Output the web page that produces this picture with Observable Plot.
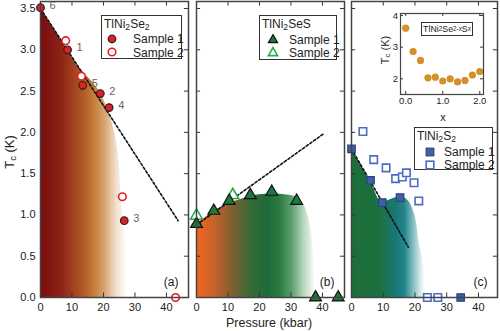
<!DOCTYPE html>
<html><head><meta charset="utf-8">
<script src="https://cdn.jsdelivr.net/npm/d3@7"></script>
<script src="https://cdn.jsdelivr.net/npm/@observablehq/plot@0.6"></script>
<style>
body{margin:0;background:#fff;}
#chart{position:relative;width:500px;height:331px;font-family:"Liberation Sans",Arial,sans-serif;color:#222;overflow:hidden;}
.abs{position:absolute;white-space:nowrap;line-height:1;}
.legend{position:absolute;border:1px solid #333;background:#fff;font-size:12px;box-sizing:border-box;}
.legend .t,.legend .r{position:absolute;white-space:nowrap;line-height:1;}
sub{font-size:0.72em;vertical-align:-0.25em;line-height:0;}
</style></head><body><div id="chart"></div>
<script>
// ---------- data ----------
const pressureTicks = [0, 10, 20, 30, 40];
const tcTicks = [0, 0.5, 1, 1.5, 2, 2.5, 3, 3.5];

// (a) TlNi2Se2
const seS1P = [0, 8.6, 13.4, 19.0, 21.8, 26.6];
const seS1T = [3.51, 3.00, 2.57, 2.47, 2.30, 0.93];
const seS1Label = ["6", "1", "5", "2", "4", "3"];
const seS2P = [8.0, 13.0, 26.0, 42.9];
const seS2T = [3.11, 2.68, 1.22, 0.0];
const seFitP = [0, 43.7];
const seFitT = [3.5, 0.93];
const seDomeP = [0, 11, 22, 23.5, 24.9, 25.6, 26.5, 27.3, 27.5];
const seDomeT = [3.5, 2.85, 2.21, 2.0, 1.66, 1.26, 0.85, 0.45, 0];

// (b) TlNi2SeS
const sesS1P = [0, 5.5, 10.4, 17.1, 23.9, 31.8, 37.8, 45.0];
const sesS1T = [0.89, 1.05, 1.17, 1.24, 1.28, 1.17, 0, 0];
const sesS2P = [0, 11.5];
const sesS2T = [0.99, 1.24];
const sesFitP = [0, 40.6];
const sesFitT = [0.88, 1.99];
const sesDomeP = [0, 5, 10, 15, 20, 25, 30, 32.5, 34, 35.3, 36.2, 37.2, 37.7, 37.8];
const sesDomeT = [0.88, 1.03, 1.13, 1.2, 1.245, 1.255, 1.235, 1.2, 1.13, 1.0, 0.85, 0.45, 0.05, 0];

// (c) TlNi2S2
const sS1P = [0, 6.0, 9.7, 15.3, 34.4];
const sS1T = [1.80, 1.42, 1.15, 1.21, 0];
const sS2P = [3.6, 7.0, 10.9, 13.9, 16.0, 17.3, 19.7, 21.2, 23.9, 27.2];
const sS2T = [2.01, 1.67, 1.57, 1.44, 1.46, 1.51, 1.39, 1.17, 0, 0];
const sFitP = [0, 17.9];
const sFitT = [1.80, 0.61];
const sDomeP = [0, 3, 6, 9.7, 12, 15.3, 17, 19.1, 20.7, 21.2, 22.8, 23.3, 23.4];
const sDomeT = [1.80, 1.60, 1.40, 1.15, 1.18, 1.22, 1.2, 1.09, 0.85, 0.69, 0.33, 0.05, 0];

// inset: TlNi2Se(2-x)S(x)
const insetX = [0, 0.2, 0.4, 0.6, 0.8, 1.0, 1.2, 1.4, 1.6, 1.8, 2.0];
const insetTc = [3.60, 2.86, 2.58, 2.03, 2.05, 1.93, 2.00, 1.90, 1.95, 2.12, 2.23];
const insetXTicks = [0, 1, 2];
const insetYTicks = [2, 3, 4];

// ---------- helpers ----------
const rows = (xs, ys, ls) => xs.map((x, i) => ({x, y: ys[i], label: ls ? ls[i] : null}));
const YMAX = 3.585;
const chart = document.getElementById("chart");
const FONT = "font-family:'Liberation Sans',Arial,sans-serif;";

function addGradient(svgEl, id, stops) {
  const ns = "http://www.w3.org/2000/svg";
  const defs = document.createElementNS(ns, "defs");
  const g = document.createElementNS(ns, "linearGradient");
  g.setAttribute("id", id);
  g.setAttribute("x1", "0"); g.setAttribute("x2", "1");
  g.setAttribute("y1", "0"); g.setAttribute("y2", "0");
  for (const [o, c] of stops) {
    const s = document.createElementNS(ns, "stop");
    s.setAttribute("offset", o); s.setAttribute("stop-color", c);
    g.appendChild(s);
  }
  defs.appendChild(g);
  svgEl.insertBefore(defs, svgEl.firstChild);
}

function place(node, left, top) {
  const svg = node.tagName.toLowerCase() === "svg" ? node : node.querySelector("svg");
  node.style.position = "absolute";
  node.style.left = left + "px";
  node.style.top = top + "px";
  node.style.background = "transparent";
  node.style.overflow = "visible";
  node.style.maxWidth = "none";
  chart.appendChild(node);
  return svg;
}

function frameTicks(xmax) {
  const ty = 0.055, tx = 1.3, st = {stroke: "#333", strokeWidth: 1};
  return [
    Plot.ruleX(pressureTicks, {x: d => d, y1: 0, y2: ty, ...st}),
    Plot.ruleX(pressureTicks, {x: d => d, y1: YMAX - ty, y2: YMAX, ...st}),
    Plot.ruleY(tcTicks, {y: d => d, x1: 0, x2: tx, ...st}),
    Plot.ruleY(tcTicks, {y: d => d, x1: xmax - tx, x2: xmax, ...st})
  ];
}

function panel(o) {
  const marks = [
    Plot.areaY(rows(o.domeP, o.domeT), {x: "x", y: "y", fill: `url(#${o.gid})`, curve: "monotone-x"}),
    ...frameTicks(o.xmax),
    Plot.line(rows(o.fitP, o.fitT), {x: "x", y: "y", stroke: "#111", strokeWidth: 1.6, strokeDasharray: "2.5,2"}),
    Plot.dot(rows(o.s2P, o.s2T), {x: "x", y: "y", symbol: o.symbol, r: o.r, fill: "#fff", stroke: o.c2, strokeWidth: 1.6}),
    Plot.dot(rows(o.s1P, o.s1T, o.labels), {x: "x", y: "y", symbol: o.symbol, r: o.r, fill: o.c1, stroke: o.k1, strokeWidth: 1.2}),
    o.labels ? Plot.text(rows(o.s1P, o.s1T, o.labels), {x: "x", y: "y", text: "label", dx: 9, dy: -2, textAnchor: "start", fill: "#666", fontSize: 11}) : null,
    Plot.text([o.tag], {text: d => d, frameAnchor: "bottom-right", dx: -10, dy: -12, fontSize: 12, fill: "#222"}),
    Plot.frame({stroke: "#444", strokeWidth: 1.5})
  ].filter(Boolean);
  const p = Plot.plot({
    width: o.width, height: 331,
    marginLeft: o.ml, marginRight: o.mr, marginTop: 1, marginBottom: 34,
    style: FONT + "font-size:11px;",
    x: {domain: [0, o.xmax], ticks: pressureTicks, tickSize: 0, tickPadding: 6, label: null},
    y: o.showY
      ? {domain: [0, YMAX], ticks: tcTicks, tickFormat: d3.format(".1f"), tickSize: 0, tickPadding: 5, label: null}
      : {domain: [0, YMAX], axis: null},
    marks
  });
  const svg = place(p, o.left, 0);
  addGradient(svg, o.gid, o.stops);
}

// (a)
panel({left: 0, width: 192, ml: 40, mr: 4, xmax: 47, showY: true, gid: "gA",
  domeP: seDomeP, domeT: seDomeT, fitP: seFitP, fitT: seFitT,
  s1P: seS1P, s1T: seS1T, s2P: seS2P, s2T: seS2T, labels: seS1Label,
  symbol: "circle", r: 3.8, c1: "#e31e24", k1: "#222", c2: "#e31e24", tag: "(a)",
  stops: [[0, "#7a0c10"], [0.25, "#8e2416"], [0.5, "#b25a26"], [0.62, "#c47c36"], [0.75, "#d9a575"], [0.88, "#f2e0cf"], [1, "#ffffff"]]});

// (b)
panel({left: 192, width: 156, ml: 4, mr: 4, xmax: 47, showY: false, gid: "gB",
  domeP: sesDomeP, domeT: sesDomeT, fitP: sesFitP, fitT: sesFitT,
  s1P: sesS1P, s1T: sesS1T, s2P: sesS2P, s2T: sesS2T, labels: null,
  symbol: "triangle", r: 4.4, c1: "#1b7a3a", k1: "#111", c2: "#2aa84a", tag: "(b)",
  stops: [[0, "#f26522"], [0.15, "#c8632a"], [0.3, "#7f6030"], [0.45, "#3a6a35"], [0.6, "#1d6a3a"], [0.7, "#2a7a40"], [0.8, "#5a9d6a"], [0.9, "#b5d5bb"], [1, "#ffffff"]]});

// (c)
panel({left: 347, width: 153, ml: 4, mr: 3, xmax: 46, showY: false, gid: "gC",
  domeP: sDomeP, domeT: sDomeT, fitP: sFitP, fitT: sFitT,
  s1P: sS1P, s1T: sS1T, s2P: sS2P, s2T: sS2T, labels: null,
  symbol: "square", r: 4.2, c1: "#3f5fa8", k1: "#2b4080", c2: "#4a6cc4", tag: "(c)",
  stops: [[0, "#1c6e38"], [0.4, "#1b7040"], [0.6, "#187878"], [0.72, "#23868a"], [0.85, "#90c4c6"], [0.95, "#e4f0f0"], [1, "#ffffff"]]});

// inset
{
  const xd = [-0.14, 2.1], yd = [1.504, 4.063];
  const st = {stroke: "#333", strokeWidth: 1};
  const iy = 0.095, ix = 0.08;
  const p = Plot.plot({
    width: 110, height: 125, marginLeft: 20, marginRight: 7, marginTop: 13, marginBottom: 31,
    style: FONT + "font-size:9.5px;",
    x: {domain: xd, ticks: insetXTicks, tickFormat: d3.format(".1f"), tickSize: 0, tickPadding: 3, label: null},
    y: {domain: yd, ticks: insetYTicks, tickFormat: d3.format("d"), tickSize: 0, tickPadding: 2.5, label: null},
    marks: [
      Plot.ruleX(insetXTicks, {x: d => d, y1: yd[0], y2: yd[0] + iy, ...st}),
      Plot.ruleX(insetXTicks, {x: d => d, y1: yd[1] - iy, y2: yd[1], ...st}),
      Plot.ruleY(insetYTicks, {y: d => d, x1: xd[0], x2: xd[0] + ix, ...st}),
      Plot.ruleY(insetYTicks, {y: d => d, x1: xd[1] - ix, x2: xd[1], ...st}),
      Plot.dot(rows(insetX, insetTc), {x: "x", y: "y", r: 3.6, fill: "#d4902a"}),
      Plot.frame({stroke: "#444", strokeWidth: 1.2})
    ]
  });
  place(p, 380, 0);
}

// ---------- HTML text: titles, legends ----------
function html(s) { chart.insertAdjacentHTML("beforeend", s); }
const marker = (shape, fill, stroke, sw) => {
  let el;
  if (shape === "circle") el = `<circle cx="6" cy="6" r="3.8" fill="${fill}" stroke="${stroke}" stroke-width="${sw}"/>`;
  else if (shape === "triangle") el = `<path d="M6,1.6L10.6,9.6H1.4Z" fill="${fill}" stroke="${stroke}" stroke-width="${sw}"/>`;
  else el = `<rect x="2.2" y="2.2" width="7.6" height="7.6" fill="${fill}" stroke="${stroke}" stroke-width="${sw}"/>`;
  return `<svg width="12" height="12" style="position:absolute;overflow:visible">${el}</svg>`;
};
function legend(left, top, w, h, title, mx, tx, r1, r2, m1, m2) {
  html(`<div class="legend" style="left:${left}px;top:${top}px;width:${w}px;height:${h}px">
    <div class="t" style="left:2px;top:1.5px">${title}</div>
    <div style="position:absolute;left:${mx - 6}px;top:${r1 - 6}px">${m1}</div>
    <div class="r" style="left:${tx}px;top:${r1 - 5.5}px">Sample 1</div>
    <div style="position:absolute;left:${mx - 6}px;top:${r2 - 6}px">${m2}</div>
    <div class="r" style="left:${tx}px;top:${r2 - 5.5}px">Sample 2</div>
  </div>`);
}
legend(101, 15, 81, 44, "TlNi<sub>2</sub>Se<sub>2</sub>", 10, 31, 22.5, 36,
  marker("circle", "#e31e24", "#222", 1.2), marker("circle", "#fff", "#e31e24", 1.6));
legend(259, 15, 78, 45, "TlNi<sub>2</sub>SeS", 13, 29, 23, 36,
  marker("triangle", "#1b7a3a", "#111", 1.2), marker("triangle", "#fff", "#2aa84a", 1.6));
legend(414, 127, 79, 43, "TlNi<sub>2</sub>S<sub>2</sub>", 15, 29, 23.5, 36.5,
  marker("square", "#3f5fa8", "#2b4080", 1.2), marker("square", "#fff", "#4a6cc4", 1.6));

html(`<div class="abs" style="left:9px;top:152px;transform:translate(-50%,-50%) rotate(-90deg);font-size:13px">T<sub>c</sub> (K)</div>`);
html(`<div class="abs" style="left:269px;top:323px;transform:translate(-50%,-50%);font-size:12.5px">Pressure (kbar)</div>`);
html(`<div class="abs" style="left:385px;top:50px;transform:translate(-50%,-50%) rotate(-90deg);font-size:11px">T<sub>c</sub> (K)</div>`);
html(`<div class="abs" style="left:443px;top:117px;transform:translate(-50%,-50%);font-size:11px">x</div>`);
html(`<div class="abs" style="left:421px;top:22px;width:52px;height:14px;border:1px solid #333;box-sizing:border-box;background:#fff;font-size:8.8px;display:flex;align-items:center;justify-content:center">TlNi<sub>2</sub>Se<sub>2-x</sub>S<sub>x</sub></div>`);
</script></body></html>
